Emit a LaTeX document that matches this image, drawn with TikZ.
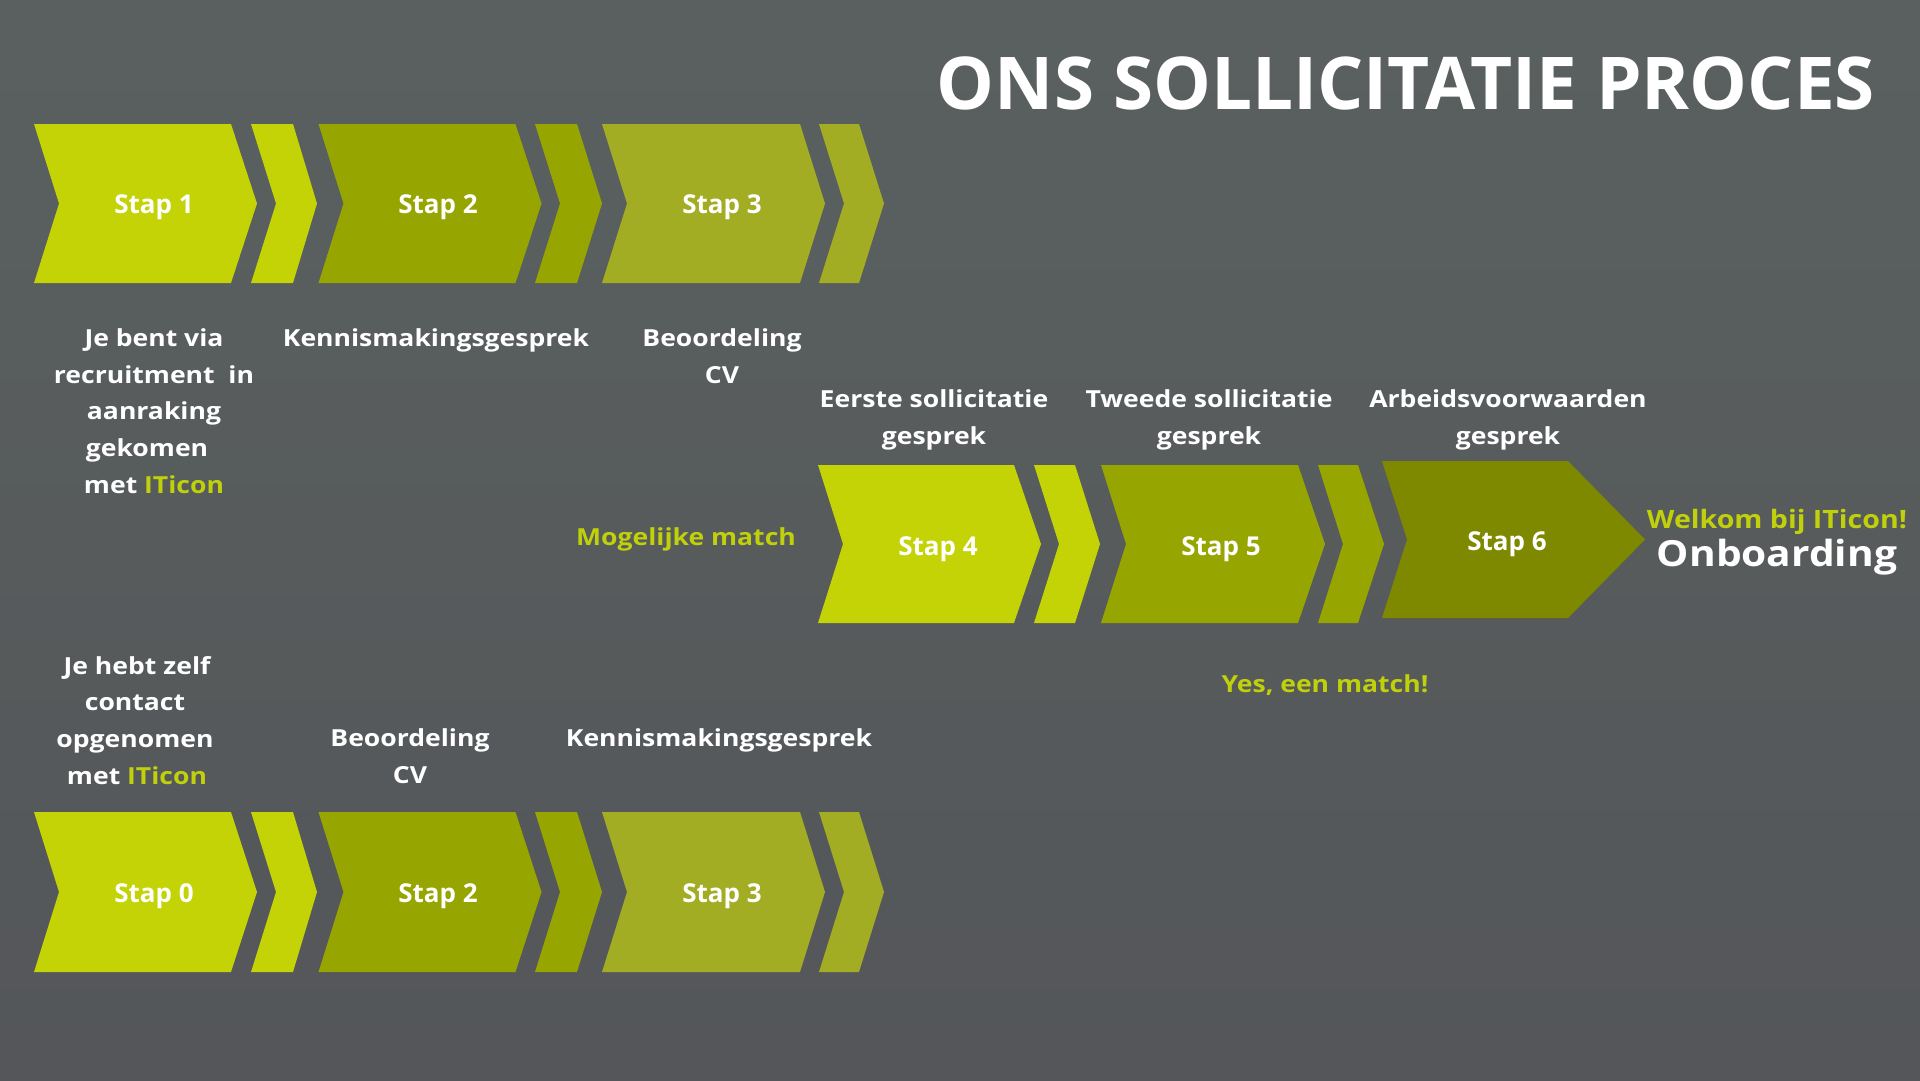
\documentclass[tikz,border=0pt]{standalone}
\usepackage{fontspec}
\setmainfont{Open Sans}
\newfontfamily\widefont{Open Sans}[FakeStretch=1.13]
\definecolor{bgtop}{RGB}{90,96,95}
\definecolor{bgbot}{RGB}{84,86,89}
\definecolor{cA}{RGB}{195,211,5}
\definecolor{cB}{RGB}{151,165,0}
\definecolor{cC}{RGB}{163,173,36}
\definecolor{cD}{RGB}{127,137,0}
\definecolor{gtext}{RGB}{192,208,10}
% \chev{x}{ytop}{w}{h}{notch}{tip}{color}
\newcommand{\chev}[7]{%
  \fill[#7] (#1,#2) -- ++(#3,0) -- ++(#6,#4/2) -- ++(-#6,#4/2) -- ++(-#3,0) -- ++(#5,-#4/2) -- cycle;}
\begin{document}
\begin{tikzpicture}[x=1pt,y=-1pt,
  lbl/.style={text=white,font=\widefont\bfseries\fontsize{23.5}{36.7}\selectfont,align=center,inner sep=0pt},
  steplbl/.style={text=white,font=\bfseries\fontsize{26}{30}\selectfont,inner sep=0pt},
  glbl/.style={lbl,text=gtext}]
\shade[top color=bgtop,bottom color=bgbot] (0,0) rectangle (1920,1080);
\useasboundingbox (0,0) rectangle (1920,1080);
% title
\node[text=white,font=\bfseries\fontsize{72.8}{80}\selectfont,inner sep=0pt] (title) at (1406,83) {ONS SOLLICITATIE PROCES};
% row 1
\chev{34}{124}{197}{159}{25}{26}{cA}
\chev{251}{124}{42}{159}{25}{24}{cA}
\chev{318.5}{124}{197}{159}{25}{26}{cB}
\chev{535}{124}{42}{159}{25}{25}{cB}
\chev{602}{124}{198}{159}{25}{25}{cC}
\chev{819}{124}{40}{159}{25}{25}{cC}
\node[steplbl] (s1) at (154,207.7) {Stap 1};
\node[steplbl] (s2) at (438,207.7) {Stap 2};
\node[steplbl] (s3) at (722,207.7) {Stap 3};
\node[lbl,anchor=base] (d1a) at (154,346.5) {Je bent via};
\node[lbl,anchor=base] (d1b) at (154,383.2) {recruitment\ \ in};
\node[lbl,anchor=base] (d1c) at (154,419.9) {aanraking};
\node[lbl,anchor=base] (d1d) at (147,456.6) {gekomen};
\node[lbl,anchor=base] (d1e) at (154,493.3) {met \textcolor{gtext}{ITicon}};
\node[lbl,anchor=base] (d2) at (436,346.5) {Kennismakingsgesprek};
\node[lbl,anchor=base] (d3) at (722,383.2) {Beoordeling\\CV};
% row 2
\chev{818}{465}{196}{158}{25}{27}{cA}
\chev{1034}{465}{41}{158}{25}{25}{cA}
\chev{1101}{465}{197}{158}{25}{27}{cB}
\chev{1318}{465}{40}{158}{25}{26}{cB}
\chev{1382}{461}{186}{157}{25}{77}{cD}
\node[steplbl] (s4) at (938,548.7) {Stap 4};
\node[steplbl] (s5) at (1221,548.7) {Stap 5};
\node[steplbl] (s6) at (1507,543.7) {Stap 6};
\node[lbl,anchor=base] (d4) at (934,444.2) {Eerste sollicitatie\\gesprek};
\node[lbl,anchor=base] (d5) at (1209,444.2) {Tweede sollicitatie\\gesprek};
\node[lbl,anchor=base] (d6) at (1508,444.2) {Arbeidsvoorwaarden\\gesprek};
\node[glbl,anchor=base] (mm) at (686,545.5) {Mogelijke match};
\node[glbl,anchor=base] (yes) at (1325,692.5) {Yes, een match!};
\node[glbl,anchor=base,font=\widefont\bfseries\fontsize{25.3}{30}\selectfont] (welk) at (1777,528.5) {Welkom bij ITicon!};
\node[lbl,anchor=base,font=\widefont\bfseries\fontsize{36}{40}\selectfont] (onb) at (1777,566) {Onboarding};
% row 3
\chev{34}{812}{197}{160}{25}{26}{cA}
\chev{251}{812}{42}{160}{25}{24}{cA}
\chev{318.5}{812}{197}{160}{25}{26}{cB}
\chev{535}{812}{42}{160}{25}{25}{cB}
\chev{602}{812}{198}{160}{25}{25}{cC}
\chev{819}{812}{40}{160}{25}{25}{cC}
\node[steplbl] (s0) at (154,896.5) {Stap 0};
\node[steplbl] (s2b) at (438,896.5) {Stap 2};
\node[steplbl] (s3b) at (722,896.5) {Stap 3};
\node[lbl,anchor=base] (d0a) at (137,674.2) {Je hebt zelf};
\node[lbl,anchor=base] (d0b) at (135,710.9) {contact};
\node[lbl,anchor=base] (d0c) at (135,747.6) {opgenomen};
\node[lbl,anchor=base] (d0d) at (137,784.3) {met \textcolor{gtext}{ITicon}};
\node[lbl,anchor=base] (d2b) at (410,783.5) {Beoordeling\\CV};
\node[lbl,anchor=base] (d3b) at (719,746.5) {Kennismakingsgesprek};
\end{tikzpicture}
\end{document}
